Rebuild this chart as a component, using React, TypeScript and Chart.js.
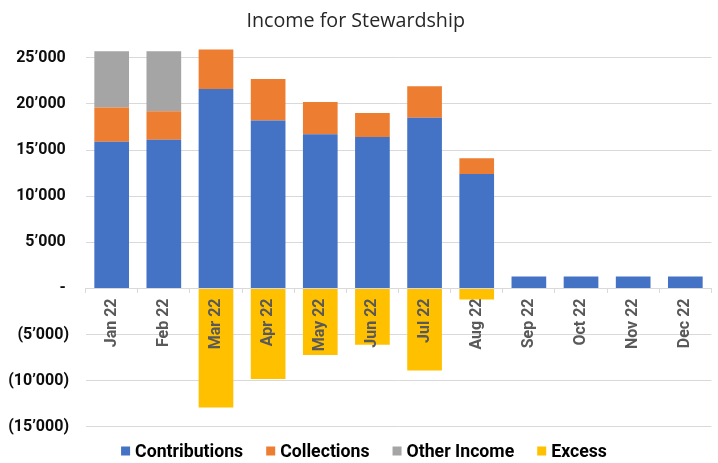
import { useEffect, useRef } from 'react';
import { Chart, registerables } from 'chart.js';

Chart.register(...registerables);

const months = ['Jan 22', 'Feb 22', 'Mar 22', 'Apr 22', 'May 22', 'Jun 22', 'Jul 22', 'Aug 22', 'Sep 22', 'Oct 22', 'Nov 22', 'Dec 22'];
const contributions = [15900, 16100, 21600, 18200, 16700, 16400, 18500, 12400, 1300, 1300, 1300, 1300];
const collections = [3700, 3100, 4300, 4500, 3500, 2600, 3400, 1700, null, null, null, null];
const otherIncome = [6100, 6500, null, null, null, null, null, null, null, null, null, null];
const excess = [null, null, -12900, -9800, -7200, -6100, -8900, -1200, null, null, null, null];
const yTickValues = [-15000, -10000, -5000, 0, 5000, 10000, 15000, 20000, 25000];
const seriesNames = ['Contributions', 'Collections', 'Other Income', 'Excess'];
const seriesColors = ['#4472C4', '#ED7D31', '#A5A5A5', '#FFC000'];
const chartTitle = 'Income for Stewardship';

function groupThousands(n: number): string {
  return String(n).replace(/\B(?=(\d{3})+(?!\d))/g, '\u2019');
}

function yLabel(v: number): string {
  if (v === 0) return '-\u2009';
  if (v < 0) return '(' + groupThousands(-v) + ')';
  return groupThousands(v) + '\u2009';
}

const bottomLegend = {
  id: 'bottomLegend',
  afterDraw(chart: any) {
    const ctx = chart.ctx;
    ctx.save();
    ctx.font = 'bold 17.7px Roboto';
    ctx.textBaseline = 'alphabetic';
    ctx.textAlign = 'left';
    const box = 9;
    const gap = 5;
    const spacing = 23;
    const items = chart.data.datasets.map((ds: any) => ({
      text: ds.label as string,
      color: ds.backgroundColor as string,
      w: ctx.measureText(ds.label).width,
    }));
    const total = items.reduce((s: number, it: any) => s + box + gap + it.w, 0) + spacing * (items.length - 1);
    let x = chart.width / 2 + 5 - total / 2;
    const baseline = chart.height - 5.6;
    for (const it of items) {
      ctx.fillStyle = it.color;
      ctx.fillRect(x, baseline - 6.4 - box / 2, box, box);
      x += box + gap;
      ctx.fillStyle = '#000000';
      ctx.fillText(it.text, x, baseline);
      x += it.w + spacing;
    }
    ctx.restore();
  },
};

export default function App() {
  const canvasRef = useRef<HTMLCanvasElement | null>(null);

  useEffect(() => {
    if (!canvasRef.current) return;
    const data = [contributions, collections, otherIncome, excess];
    const chart = new Chart(canvasRef.current, {
      type: 'bar',
      data: {
        labels: months,
        datasets: seriesNames.map((name, i) => ({
          label: name,
          data: data[i],
          backgroundColor: seriesColors[i],
          borderWidth: 0,
          categoryPercentage: 0.665,
          barPercentage: 1,
        })),
      },
      options: {
        animation: false,
        responsive: true,
        maintainAspectRatio: false,
        layout: { padding: { top: 0, left: 0, right: 6.6, bottom: 36.1 } },
        plugins: {
          legend: { display: false },
          tooltip: { enabled: false },
          title: {
            display: true,
            text: chartTitle,
            color: '#262626',
            font: { family: '"Open Sans"', size: 19.7, weight: 'normal' },
            padding: { top: 10, bottom: 13 },
          },
        },
        scales: {
          x: {
            type: 'category',
            stacked: true,
            position: { y: 0 } as any,
            offset: true,
            grid: {
              drawOnChartArea: false,
              drawTicks: true,
              tickLength: 4,
              offset: true,
              color: '#d9d9d9',
            },
            border: { display: true, color: '#d9d9d9', width: 1 },
            ticks: {
              z: 1,
              autoSkip: false,
              minRotation: 90,
              maxRotation: 90,
              padding: 6,
              color: '#595959',
              font: { family: 'Roboto', size: 16, weight: 'bold' },
            },
          },
          y: {
            stacked: true,
            min: -15000,
            max: 26200,
            afterBuildTicks: (axis: any) => {
              axis.ticks = yTickValues.map((v) => ({ value: v }));
            },
            afterFit: (axis: any) => {
              axis.width = 85.6;
            },
            grid: { color: '#d9d9d9', drawTicks: false },
            border: { display: false },
            ticks: {
              padding: 16.6,
              color: '#0d0d0d',
              font: { family: 'Roboto', size: 16, weight: 'bold' },
              callback: (v: any) => yLabel(Number(v)),
            },
          },
        },
      },
      plugins: [bottomLegend],
    });
    return () => chart.destroy();
  }, []);

  return (
    <div style={{ position: 'absolute', left: 0, top: 0, width: 718, height: 463 }}>
      <canvas ref={canvasRef} />
    </div>
  );
}
